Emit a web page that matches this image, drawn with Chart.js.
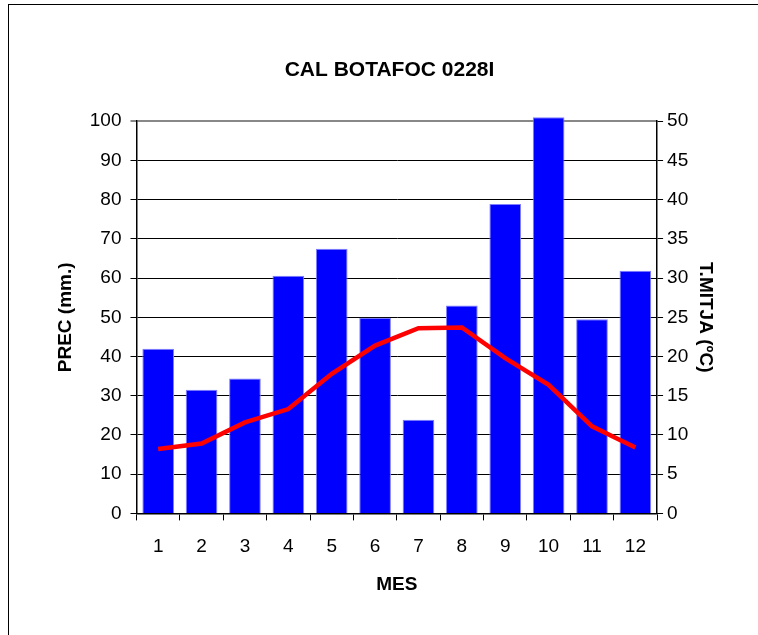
<!DOCTYPE html>
<html>
<head>
<meta charset="utf-8">
<script src="https://cdn.jsdelivr.net/npm/chart.js@4"></script>
<style>
  html, body { margin: 0; padding: 0; background: #fff; }
  #wrap { position: relative; width: 758px; height: 635px; overflow: hidden; }
  #frame { position: absolute; left: 8px; top: 4px; width: 800px; height: 700px;
           border-left: 1.5px solid #000; border-top: 1.5px solid #000; }
  canvas { position: absolute; left: 0; top: 0; }
</style>
</head>
<body>
<div id="wrap">
  <div id="frame"></div>
  <canvas id="grafico" width="758" height="635"></canvas>
</div>
<script>
// Dades =====================================================================

const mesos = ["1", "2", "3", "4", "5", "6", "7", "8", "9", "10", "11", "12"];
const prec = [42, 31.5, 34.4, 60.6, 67.5, 49.9, 23.9, 53, 78.9, 101, 49.5, 61.9];
const temp = [8.2, 8.9, 11.6, 13.3, 17.8, 21.4, 23.6, 23.7, 19.8, 16.4, 11.1, 8.4];

const family = "'Liberation Sans', Arial, sans-serif";
const fontTick = { family: family, size: 19 };
const fontAxis = { family: family, size: 19, weight: "bold" };
const fontTitle = { family: family, size: 21, weight: "bold" };

const data = {
  labels: mesos,
  datasets: [
    {
      type: "line",
      label: "T.MITJA",
      data: temp,
      yAxisID: "y2",
      borderColor: "#ff0000",
      borderWidth: 4.5,
      pointRadius: 0,
      tension: 0,
      order: 0,
    },
    {
      type: "bar",
      label: "PREC",
      data: prec,
      yAxisID: "y",
      backgroundColor: "#0000ff",
      borderColor: "#7f7fff",
      borderWidth: 1,
      barPercentage: 0.73,
      categoryPercentage: 1,
      clip: false,
      order: 1,
    },
  ],
};

const config = {
  type: "bar",
  data: data,
  options: {
    responsive: false,
    animation: false,
    layout: { padding: { left: 50, right: 29, top: 50, bottom: 35 } },
    plugins: {
      legend: { display: false },
      tooltip: { enabled: false },
      title: {
        display: true,
        text: "CAL BOTAFOC 0228I",
        color: "#000",
        font: fontTitle,
        padding: { top: 8, bottom: 38 },
      },
    },
    scales: {
      x: {
        grid: { drawOnChartArea: false, offset: true, tickLength: 7, color: "#000" },
        border: { color: "#000", width: 1.5 },
        ticks: { color: "#000", font: fontTick, padding: 15 },
        title: { display: true, text: "MES", color: "#000", font: fontAxis, padding: { top: 0, bottom: 4 } },
      },
      y: {
        position: "left",
        min: 0,
        max: 100,
        ticks: { stepSize: 10, color: "#000", font: fontTick, padding: 9 },
        grid: {
          tickLength: 6,
          color: (c) => (c.tick && c.tick.value === 100 ? "#888" : "#000"),
          lineWidth: (c) => (c.tick && c.tick.value === 100 ? 2 : 1),
        },
        border: { color: "#000", width: 1.5 },
        title: { display: true, text: "PREC (mm.)", color: "#000", font: fontAxis, padding: { top: 4, bottom: 4 } },
      },
      y2: {
        position: "right",
        min: 0,
        max: 50,
        ticks: { stepSize: 5, color: "#000", font: fontTick, padding: 4 },
        grid: { drawOnChartArea: false, tickLength: 6, color: "#000" },
        border: { color: "#000", width: 1.5 },
        title: { display: true, text: "T.MITJA (ºC)", color: "#000", font: fontAxis, padding: { top: 12, bottom: 2 } },
      },
    },
  },
};

const grafico = new Chart(document.getElementById("grafico"), config);
</script>
</body>
</html>
